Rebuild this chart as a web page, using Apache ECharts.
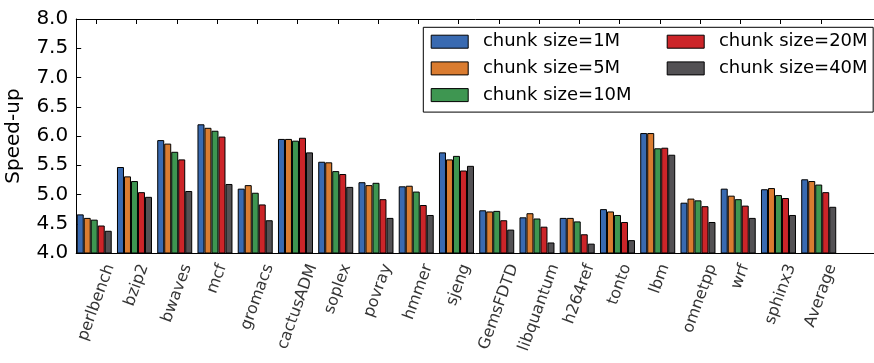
<!DOCTYPE html>
<html>
<head>
<meta charset="utf-8">
<script src="https://cdn.jsdelivr.net/npm/echarts@6/dist/echarts.min.js"></script>
<style>html,body{margin:0;padding:0;background:#fff}#c{width:874px;height:363px}</style>
</head>
<body>
<div id="c"></div>
<script>
const categories = ['perlbench','bzip2','bwaves','mcf','gromacs','cactusADM','soplex','povray','hmmer','sjeng','GemsFDTD','libquantum','h264ref','tonto','lbm','omnetpp','wrf','sphinx3','Average'];
const seriesNames = ['chunk size=1M','chunk size=5M','chunk size=10M','chunk size=20M','chunk size=40M'];
const chunk1M  = [4.66,5.47,5.93,6.20,5.10,5.95,5.56,5.21,5.14,5.72,4.73,4.61,4.60,4.75,6.05,4.86,5.10,5.09,5.26];
const chunk5M  = [4.60,5.31,5.87,6.14,5.16,5.95,5.55,5.16,5.15,5.60,4.71,4.68,4.60,4.71,6.05,4.93,4.98,5.11,5.23];
const chunk10M = [4.57,5.23,5.73,6.09,5.03,5.92,5.40,5.20,5.05,5.66,4.72,4.59,4.54,4.65,5.79,4.90,4.92,4.99,5.17];
const chunk20M = [4.47,5.04,5.60,5.99,4.83,5.97,5.35,4.92,4.82,5.41,4.56,4.45,4.32,4.53,5.80,4.80,4.81,4.94,5.04];
const chunk40M = [4.38,4.96,5.06,5.18,4.56,5.72,5.13,4.60,4.65,5.49,4.40,4.18,4.16,4.22,5.68,4.53,4.60,4.65,4.79];
const yTicks = ['4.0','4.5','5.0','5.5','6.0','6.5','7.0','7.5','8.0'];
const colors = ['#396AB1','#DA7C30','#3E9651','#CC2529','#535154'];
const FONT = '"DejaVu Sans", sans-serif';

const values = [chunk1M, chunk5M, chunk10M, chunk20M, chunk40M];
const axisCats = categories.concat(['']);
const Y_MIN = 4, Y_MAX = 8;

// category labels: rotated 70deg, bbox centred on the tick, top just below the axis
const ROT = 70 * Math.PI / 180;
const ctx = document.createElement('canvas').getContext('2d');
ctx.font = '16px "DejaVu Sans"';
const LABEL_GAP = 9;
const labelPoints = categories.map(function (name) {
  const L = ctx.measureText(name).width;
  const bboxH = Math.sin(ROT) * L + Math.cos(ROT) * 16;
  const s = LABEL_GAP + bboxH / 2;           // wanted screen shift straight down
  // label offset is applied in the rotated frame
  return { value: [name, Y_MIN], label: { offset: [-Math.sin(ROT) * s, Math.cos(ROT) * s], formatter: name } };
});

const series = values.map(function (v, i) {
  return {
    name: seriesNames[i], type: 'bar', data: v, barWidth: 7, barGap: '0%',
    itemStyle: { color: colors[i], borderColor: '#000', borderWidth: 1 },
    emphasis: { disabled: true }, animation: false
  };
});
series.push({ name: 'spacer', type: 'bar', data: [], barWidth: 4.2, barGap: '0%', silent: true, animation: false });
series.push({
  name: 'labels', type: 'scatter', data: labelPoints, symbolSize: 0, clip: false, silent: true,
  label: { show: true, position: 'inside', rotate: 70, align: 'center', verticalAlign: 'middle',
    fontFamily: FONT, fontSize: 16, color: '#000' },
  emphasis: { disabled: true }, animation: false, z: 10
});

const legendCommon = {
  orient: 'vertical', icon: 'rect', itemWidth: 37, itemHeight: 13, itemGap: 8.7,
  itemStyle: { borderColor: '#000', borderWidth: 1 },
  textStyle: { fontFamily: FONT, fontSize: 18, color: '#000', lineHeight: 18, padding: [0, 0, 0, 9.7] },
  selectedMode: false
};

const chart = echarts.init(document.getElementById('c'), null, { renderer: 'canvas' });
chart.setOption({
  animation: false,
  grid: { left: 76.2, top: 19, width: 805, height: 234, outerBoundsMode: 'none' },
  legend: [
    Object.assign({}, legendCommon, {
      data: seriesNames.slice(0, 3), left: 423.3, top: 27.3,
      padding: [5.4, 241.6, 8, 7.4], borderColor: '#000', borderWidth: 1, backgroundColor: '#fff', z: 5
    }),
    Object.assign({}, legendCommon, {
      data: seriesNames.slice(3), left: 666.7, top: 32.7, padding: 0, z: 6
    })
  ],
  xAxis: [
    {
      type: 'category', data: axisCats, position: 'bottom',
      axisLine: { show: true, lineStyle: { color: '#000', width: 1 } },
      axisTick: { show: false },
      axisLabel: { show: false },
      splitLine: { show: false }
    },
    {
      type: 'category', data: axisCats, position: 'top',
      axisLine: { show: true, lineStyle: { color: '#000', width: 1 } },
      axisTick: { show: true, inside: true, alignWithLabel: true, length: 5,
        interval: function (idx, val) { return val !== ''; }, lineStyle: { color: '#000' } },
      axisLabel: { show: false },
      splitLine: { show: false }
    }
  ],
  yAxis: {
    type: 'value', min: Y_MIN, max: Y_MAX, interval: 0.5,
    name: 'Speed-up', nameLocation: 'middle', nameGap: 52,
    nameTextStyle: { fontFamily: FONT, fontSize: 20, color: '#000' },
    axisLine: { show: true, lineStyle: { color: '#000', width: 1 } },
    axisTick: { show: true, inside: true, length: 5, lineStyle: { color: '#000' } },
    axisLabel: { fontFamily: FONT, fontSize: 20, color: '#000', margin: 8,
      formatter: function (v) { return yTicks[Math.round((v - Y_MIN) / 0.5)]; } },
    splitLine: { show: false }
  },
  series: series
});
</script>
</body>
</html>
